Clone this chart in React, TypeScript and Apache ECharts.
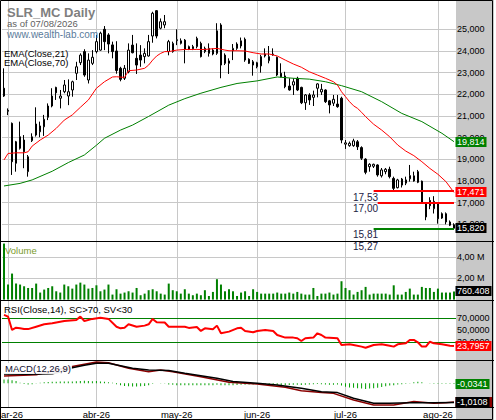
import React, { useEffect, useRef } from "react";
import * as echarts from "echarts";

const FONT = '"Liberation Sans", Arial, Helvetica, sans-serif';
const GRID_COLOR = "#c8c8c8";

const HOLIDAYS = ["2026-04-03", "2026-04-06", "2026-05-01"];
const MONTHS_ES = ["ene", "feb", "mar", "abr", "may", "jun", "jul", "ago", "sep", "oct", "nov", "dic"];

function tradingDays(start: string, end: string): string[] {
  const out: string[] = [];
  const d = new Date(start + "T12:00:00Z");
  const e = new Date(end + "T12:00:00Z");
  while (d.getTime() <= e.getTime()) {
    const wd = d.getUTCDay();
    const s = d.toISOString().slice(0, 10);
    if (wd !== 0 && wd !== 6 && HOLIDAYS.indexOf(s) < 0) out.push(s);
    d.setUTCDate(d.getUTCDate() + 1);
  }
  return out;
}

const categories = tradingDays("2026-02-27", "2026-08-07");

const opens = [
  22.28, 21.26, 20.66, 19.81, 20.04, 19.89, 18.43, 19.86, 20.12, 20.27,
  20.5, 20.94, 21.46, 22.32, 21.82, 22.12, 21.92, 22.2, 22.97, 23.46,
  23.97, 22.66, 23.43, 23.97, 24.04, 25.0, 24.74, 24.28, 24.0, 23.2,
  22.74, 23.04, 24.27, 23.66, 23.81, 23.74, 23.77, 24.69, 25.86, 25.05,
  25.2, 23.97, 23.97, 24.48, 24.35, 24.5, 24.08, 24.1, 24.2, 24.35,
  23.97, 23.89, 24.04, 23.89, 25.2, 23.81, 23.43, 24.01, 24.12, 24.23,
  24.54, 23.62, 23.5, 23.27, 23.31, 23.77, 23.55, 23.82, 23.71, 22.97,
  22.85, 22.38, 22.43, 22.74, 22.32, 21.61, 21.97, 21.86, 22.28, 22.11,
  22.2, 21.7, 21.59, 21.55, 21.82, 19.7, 19.63, 19.63, 19.81, 19.54,
  19.01, 18.66, 18.68, 18.74, 18.24, 18.43, 18.54, 18.12, 17.69, 17.81,
  17.9, 18.1, 18.0, 18.43, 17.99, 16.34, 17.1, 16.72, 16.95, 16.49,
  16.49, 16.11, 15.98,
];
const closes = [
  21.92, 21.22, 18.89, 18.82, 19.51, 19.35, 19.12, 20.04, 20.63, 20.54,
  20.85, 21.46, 21.92, 22.07, 21.92, 22.43, 22.12, 22.58, 23.27, 23.81,
  22.89, 23.58, 23.71, 24.43, 24.82, 24.43, 24.32, 23.97, 23.1, 22.69,
  23.2, 24.04, 23.92, 23.35, 23.58, 23.89, 24.43, 25.74, 24.69, 25.35,
  25.35, 24.43, 24.35, 24.52, 24.47, 24.08, 24.2, 24.2, 24.58, 23.74,
  24.12, 24.12, 23.86, 24.93, 23.35, 23.43, 23.54, 24.12, 24.32, 24.47,
  23.58, 23.43, 23.35, 23.46, 23.74, 23.86, 23.74, 23.86, 22.89, 22.81,
  22.35, 22.2, 22.58, 22.2, 21.61, 21.97, 21.74, 21.97, 22.48, 22.23,
  21.66, 21.51, 21.77, 21.43, 19.89, 19.76, 19.74, 19.85, 19.58, 19.05,
  18.4, 18.77, 18.77, 18.28, 18.51, 18.54, 18.2, 17.66, 18.05, 18.09,
  18.05, 18.25, 18.24, 17.94, 17.03, 16.95, 16.86, 17.06, 16.26, 16.29,
  16.11, 15.96, 15.82,
];
const lows = [
  21.88, 21.04, 18.28, 18.43, 19.45, 18.59, 18.2, 19.8, 20.05, 20.02,
  20.08, 20.81, 21.4, 21.74, 21.35, 22.05, 21.5, 21.89, 22.66, 23.35,
  22.81, 22.5, 23.35, 23.89, 24.01, 24.04, 23.89, 23.66, 22.95, 22.6,
  22.66, 22.97, 23.89, 22.94, 23.27, 23.43, 23.74, 24.38, 24.58, 25.0,
  25.05, 23.8, 23.92, 24.27, 24.3, 23.43, 24.04, 24.04, 24.12, 23.7,
  23.9, 23.74, 23.8, 23.82, 22.74, 23.35, 22.94, 23.58, 24.05, 24.12,
  23.5, 23.4, 22.86, 23.2, 23.0, 23.7, 23.43, 23.78, 22.84, 22.78,
  22.28, 22.17, 21.97, 22.15, 21.55, 21.28, 21.51, 21.46, 21.86, 21.97,
  21.6, 21.12, 21.46, 21.38, 19.74, 19.48, 19.58, 19.58, 19.43, 18.97,
  18.31, 18.43, 18.6, 18.2, 18.16, 18.31, 18.12, 17.54, 17.66, 17.7,
  17.81, 17.97, 17.97, 17.9, 16.95, 16.19, 16.7, 16.5, 16.03, 16.25,
  16.0, 15.92, 15.81,
];
const highs = [
  23.2, 21.35, 20.7, 19.85, 20.74, 20.12, 19.2, 20.2, 21.4, 20.74,
  21.05, 21.58, 22.28, 22.35, 22.2, 22.66, 22.69, 22.63, 23.5, 23.89,
  24.08, 23.89, 24.04, 24.74, 24.89, 25.15, 24.82, 24.43, 24.45, 23.27,
  23.35, 24.35, 24.74, 24.35, 24.27, 24.12, 24.74, 25.81, 25.89, 25.5,
  25.66, 24.51, 24.43, 25.0, 24.58, 24.55, 24.25, 24.28, 24.66, 24.43,
  24.2, 24.35, 24.12, 25.28, 25.28, 23.89, 23.66, 24.32, 24.4, 24.62,
  24.62, 23.66, 23.58, 23.5, 23.82, 24.12, 24.23, 24.12, 23.74, 23.43,
  23.04, 22.74, 22.74, 22.81, 22.35, 22.01, 22.05, 22.17, 22.51, 22.48,
  22.23, 21.74, 21.97, 21.97, 21.89, 19.89, 19.82, 19.95, 19.89, 19.6,
  19.05, 18.82, 18.8, 18.77, 18.6, 18.6, 18.66, 18.2, 18.1, 18.14,
  18.2, 18.74, 18.43, 18.51, 18.02, 17.02, 17.25, 17.3, 17.0, 16.55,
  16.55, 16.18, 16.05,
];

// volume in millions
const volumesM = [
  5.25, 1.41, 2.44, 1.5, 1.41, 1.25, 1.09, 1.09, 1.5, 0.66,
  0.94, 1.09, 1.25, 0.78, 0.66, 1.41, 1.25, 1.03, 1.41, 1.59,
  1.41, 1.03, 1.09, 1.34, 0.78, 0.94, 1.41, 0.47, 0.97, 0.56,
  0.66, 0.78, 0.66, 1.09, 0.41, 0.56, 0.88, 0.97, 0.78, 0.56,
  0.47, 1.5, 0.88, 0.78, 0.56, 0.97, 0.56, 0.41, 0.56, 0.41,
  0.88, 0.34, 0.72, 1.91, 1.41, 0.78, 0.97, 0.78, 0.34, 0.66,
  0.78, 0.34, 0.97, 0.72, 0.56, 0.56, 0.56, 0.56, 0.66, 0.56,
  0.56, 0.66, 0.56, 0.72, 0.56, 0.47, 0.47, 1.09, 0.34, 0.56,
  0.56, 0.66, 0.47, 0.56, 1.72, 1.09, 0.88, 0.47, 0.72, 0.88,
  1.19, 0.47, 0.56, 0.56, 0.56, 0.56, 0.47, 1.34, 0.47, 0.47,
  0.72, 1.03, 0.47, 0.47, 1.19, 1.09, 1.09, 0.72, 1.03, 0.66,
  0.66, 0.66, 0.760408,
];

// [bar index, value]
const ema21Points: [number, number][] = [
  [0, 18.97], [1, 19.27], [3, 19.3], [5, 19.3], [6, 19.35], [7, 19.61], [9, 19.89], [11, 20.12],
  [13, 20.43], [15, 20.81], [17, 21.05], [19, 21.4], [21, 21.74], [23, 22.28], [25, 22.58], [27, 22.8],
  [28, 22.81], [30, 22.78], [31, 23.09], [33, 23.12], [35, 23.2], [36, 23.35], [37, 23.58], [38, 23.77],
  [39, 23.89], [40, 23.97], [41, 23.97], [43, 24.04], [45, 24.07], [48, 24.07], [50, 24.07], [53, 24.12],
  [55, 24.04], [56, 24.01], [58, 24.01], [60, 24.0], [62, 23.92], [64, 23.86], [66, 23.86], [68, 23.77],
  [70, 23.58], [72, 23.4], [74, 23.25], [76, 23.04], [78, 22.89], [80, 22.74], [82, 22.58], [83, 22.43],
  [84, 22.12], [85, 21.89], [86, 21.66], [87, 21.47], [88, 21.35], [89, 21.17], [90, 20.97], [92, 20.62],
  [94, 20.35], [96, 20.04], [98, 19.66], [100, 19.38], [102, 19.17], [104, 18.89], [106, 18.58],
  [108, 18.31], [110, 17.97], [112, 17.471],
];
const ema70Points: [number, number][] = [
  [0, 17.77], [4, 17.89], [7, 18.05], [12, 18.45], [16, 18.85], [20, 19.2], [23, 19.65], [25, 19.97],
  [29, 20.35], [32, 20.58], [36, 20.98], [41, 21.5], [45, 21.8], [49, 22.05], [54, 22.32], [58, 22.5],
  [63, 22.62], [68, 22.8], [72, 22.74], [76, 22.7], [80, 22.58], [84, 22.4], [89, 22.12], [94, 21.66],
  [99, 21.12], [104, 20.74], [109, 20.2], [112, 19.814],
];
const rsiPoints: [number, number][] = [
  [0, 75.6], [1, 72.8], [2, 50.6], [3, 54.4], [4, 53.3], [5, 52.2], [6, 52], [8, 56], [10, 60], [12, 61.7],
  [15, 65.6], [18, 67.2], [19, 72.8], [20, 65.5], [22, 69], [24, 71], [26, 69], [28, 56], [29, 53.3],
  [30, 54.4], [31, 60], [33, 56], [35, 57.8], [36, 60], [37, 68.9], [38, 63.3], [40, 63], [41, 56],
  [45, 56], [46, 54], [48, 55.5], [49, 48.9], [50, 53.3], [52, 51.7], [53, 57.8], [54, 45], [56, 47.8],
  [58, 53.3], [59, 54.4], [60, 48.9], [62, 46.7], [63, 48.9], [65, 50.5], [67, 48.9], [68, 42.2],
  [70, 37.8], [72, 37.8], [73, 36.7], [74, 32.2], [75, 36.7], [77, 37.8], [78, 45], [79, 42.2],
  [80, 37.8], [83, 36.7], [84, 25.6], [86, 26.7], [87, 25.6], [89, 22.8], [90, 21], [92, 25.6],
  [94, 26.7], [96, 24.4], [97, 22.8], [98, 26.7], [100, 28.3], [101, 34], [102, 34], [103, 30],
  [104, 22.8], [105, 22.8], [106, 31], [107, 28.3], [109, 26.7], [111, 24.4], [112, 23.7957],
];
const macdPoints: [number, number][] = [
  [0, 0.49], [6, 0.47], [12, 0.5], [14, 0.6], [17, 0.82], [20, 0.95], [23, 1.05], [26, 1.05], [32, 0.79],
  [36, 0.7], [41, 0.67], [45, 0.53], [53, 0.26], [57, 0.09], [63, 0.0], [68, -0.09], [74, -0.26],
  [79, -0.44], [83, -0.49], [87, -0.79], [92, -1.05], [96, -1.05], [101, -1.02], [107, -1.02],
  [112, -1.0108],
];
const signalPoints: [number, number][] = [
  [0, 0.38], [8, 0.45], [16, 0.84], [23, 1.12], [26, 1.08], [31, 0.79], [36, 0.61], [39, 0.7],
  [42, 0.61], [49, 0.35], [56, 0.05], [63, -0.04], [70, -0.21], [74, -0.39], [79, -0.49], [82, -0.53],
  [87, -0.88], [92, -1.14], [97, -1.14], [102, -0.96], [107, -1.05], [110, -1.02], [112, -0.98],
];
const histValues = [
  0.2, 0.2, 0.16, 0.12,
  0.03, -0.04, -0.07, -0.05, -0.01,
  0.03, 0.05, 0.07, 0.08, 0.08, 0.09, 0.1, 0.1, 0.1, 0.11, 0.12, 0.13, 0.12, 0.11, 0.12, 0.1, 0.08, 0.06, 0.03,
  -0.05, -0.1, -0.14, -0.16, -0.17, -0.17, -0.16, -0.14, -0.1,
  -0.03, 0.0, 0.02, 0.01,
  -0.06, -0.08, -0.1, -0.1, -0.11, -0.11, -0.1, -0.1, -0.1, -0.1, -0.11, -0.1, -0.08, -0.1, -0.11, -0.1, -0.1, -0.09, -0.08, -0.08, -0.07, -0.06,
  -0.04, -0.03, -0.05, -0.04, -0.06, -0.08, -0.1, -0.1, -0.09, -0.08, -0.08, -0.09,
  -0.08, -0.07, -0.05, -0.04, -0.05, -0.07, -0.08, -0.08, -0.07, -0.12,
  -0.18, -0.22, -0.24, -0.26, -0.28, -0.3, -0.28, -0.26, -0.24, -0.2, -0.16, -0.12,
  -0.1, -0.07, -0.05, -0.03,
  -0.01,
  0.06, 0.08, 0.06,
  0.0, -0.01,
  -0.02, -0.03, -0.03, -0.03, -0.03, -0.0341,
];

const priceTicks = [16, 17, 18, 19, 20, 21, 22, 23, 24, 25];
const volumeTicks = [2, 4];
const rsiTicks = [30, 50, 70];
const rsiLevels = [70, 30];
// horizontal level lines: value and the bar they start from
const levelValues = [17.53, 17.0, 15.81];
const levelStartBars = [92, 93, 92];
const levelColors = ["#ff0000", "#ff0000", "#008000"];
const levelNotes = [17.53, 17.0, 15.81, 15.27];

const fmtComma = (v: number, d: number) => v.toFixed(d).replace(".", ",");
const fmtThousands = (n: number) => String(Math.round(n)).replace(/\B(?=(\d{3})+(?!\d))/g, ".");

export default function App() {
  const ref = useRef<HTMLDivElement>(null);

  useEffect(() => {
    document.body.style.margin = "0";
    const el = ref.current!;
    const chart = echarts.init(el, undefined, { renderer: "svg", width: 496, height: 420 });

    const monthStarts = categories
      .map((d, i) => (i > 0 && d.slice(5, 7) !== categories[i - 1].slice(5, 7) ? i : -1))
      .filter((i) => i >= 0);
    const monthSet = new Set(monthStarts);
    const monthLabel = (d: string) => `${MONTHS_ES[Number(d.slice(5, 7)) - 1]}-${d.slice(2, 4)}`;

    const verticalLines = monthStarts.map((i) => ({ xAxis: categories[i] }));
    const gridMarkLine = (extra: any[]) => ({
      silent: true,
      symbol: ["none", "none"],
      z: 1,
      label: { show: false },
      lineStyle: { color: GRID_COLOR, width: 1, type: "solid" },
      emphasis: { disabled: true },
      data: [...verticalLines, ...extra],
    });

    const gridBase = { left: 2, width: 454, containLabel: false, outerBoundsMode: "none" };
    const lastIdx = categories.length - 1;

    const option: any = {
      animation: false,
      backgroundColor: "transparent",
      textStyle: { fontFamily: FONT },
      grid: [
        { ...gridBase, top: 1, height: 240 },
        { ...gridBase, top: 240.9, height: 58.7 },
        { ...gridBase, top: 300.3, height: 60 },
        { ...gridBase, top: 360.7, height: 46.5 },
      ],
      xAxis: [0, 1, 2, 3].map((g) => ({
        type: "category",
        gridIndex: g,
        data: categories,
        boundaryGap: true,
        axisLine: { show: false },
        axisTick: { show: false },
        splitLine: { show: false },
        axisLabel:
          g === 3
            ? {
                show: true,
                interval: (i: number) => monthSet.has(i),
                formatter: (v: string) => monthLabel(v),
                margin: 2,
                fontSize: 9.5,
                fontFamily: FONT,
                color: "#000",
              }
            : { show: false },
      })),
      yAxis: [
        { type: "value", gridIndex: 0, min: 15.231, max: 26.306, show: false },
        {
          type: "value",
          gridIndex: 1,
          min: 0,
          max: 5.5,
          interval: 2,
          position: "right",
          axisLine: { show: false },
          axisTick: { show: false },
          axisLabel: {
            margin: 1,
            fontSize: 9,
            fontFamily: FONT,
            color: "#000",
            formatter: (v: number) => (volumeTicks.indexOf(v) >= 0 ? fmtComma(v, 2) + " M" : ""),
          },
          splitLine: { show: true, showMinLine: false, showMaxLine: false, lineStyle: { color: GRID_COLOR } },
        },
        {
          type: "value",
          gridIndex: 2,
          min: 0,
          max: 100,
          interval: 10,
          position: "right",
          axisLine: { show: false },
          axisTick: { show: false },
          axisLabel: {
            margin: 1,
            fontSize: 9,
            fontFamily: FONT,
            color: "#000",
            formatter: (v: number) => (rsiTicks.indexOf(v) >= 0 ? fmtComma(v, 4) : ""),
          },
          splitLine: { show: false },
        },
        { type: "value", gridIndex: 3, min: -1.26, max: 1.19, show: false },
      ],
      series: [
        {
          type: "candlestick",
          xAxisIndex: 0,
          yAxisIndex: 0,
          z: 3,
          barWidth: 2,
          data: categories.map((_, i) => [opens[i], closes[i], lows[i], highs[i]]),
          itemStyle: {
            color: "#ffffff",
            color0: "#000000",
            borderColor: "#000000",
            borderColor0: "#000000",
            borderColorDoji: "#000000",
            borderWidth: 1,
          },
          markLine: {
            silent: true,
            symbol: ["none", "none"],
            z: 6,
            label: { show: false },
            emphasis: { disabled: true },
            data: levelValues.map((v, k) => [
              {
                coord: [categories[levelStartBars[k]], v],
                lineStyle: { color: levelColors[k], width: 2, type: "solid" },
              },
              { coord: [categories[lastIdx], v] },
            ]),
          },
        },
        {
          type: "line",
          name: "EMA70",
          xAxisIndex: 0,
          yAxisIndex: 0,
          z: 4,
          data: ema70Points,
          symbol: "none",
          lineStyle: { color: "#008000", width: 1 },
          markLine: gridMarkLine(
            priceTicks.map((v) => ({
              yAxis: v,
              label: {
                show: true,
                position: "end",
                distance: 1,
                formatter: fmtComma(v, 3),
                color: "#000",
                fontSize: 9,
                fontFamily: FONT,
              },
            }))
          ),
        },
        {
          type: "line",
          name: "EMA21",
          xAxisIndex: 0,
          yAxisIndex: 0,
          z: 4,
          data: ema21Points,
          symbol: "none",
          lineStyle: { color: "#ff0000", width: 1 },
        },
        {
          type: "bar",
          xAxisIndex: 1,
          yAxisIndex: 1,
          data: volumesM,
          barWidth: 2,
          itemStyle: { color: "#008000" },
          markLine: gridMarkLine([]),
        },
        {
          type: "line",
          xAxisIndex: 2,
          yAxisIndex: 2,
          data: rsiPoints,
          symbol: "none",
          z: 4,
          lineStyle: { color: "#ff0000", width: 2 },
          markLine: gridMarkLine(
            rsiLevels.map((v) => ({ yAxis: v, lineStyle: { color: "#008000", width: 1, type: "solid" } }))
          ),
        },
        {
          type: "bar",
          xAxisIndex: 3,
          yAxisIndex: 3,
          data: histValues,
          barWidth: 1,
          itemStyle: { color: "#00a000" },
          markLine: gridMarkLine([]),
        },
        {
          type: "line",
          xAxisIndex: 3,
          yAxisIndex: 3,
          data: signalPoints,
          symbol: "none",
          z: 4,
          lineStyle: { color: "#8b0000", width: 1.5 },
        },
        {
          type: "line",
          xAxisIndex: 3,
          yAxisIndex: 3,
          data: macdPoints,
          symbol: "none",
          z: 4,
          lineStyle: { color: "#000000", width: 1.5 },
        },
      ],
    };

    chart.setOption(option);

    const ctx = document.createElement("canvas").getContext("2d")!;
    const measure = (t: string, size: number, weight = "normal") => {
      ctx.font = `${weight} ${size}px ${FONT}`;
      return ctx.measureText(t).width;
    };
    const yPix = (axis: number, v: number) => chart.convertToPixel({ yAxisIndex: axis } as any, v) as number;

    const txt = (x: number, y: number, text: string, size: number, color: string, weight = "normal", z = 20) => ({
      type: "text",
      x,
      y,
      z,
      silent: true,
      style: {
        text,
        fill: color,
        font: `${weight} ${size}px ${FONT}`,
        align: "left",
        verticalAlign: "middle",
        textAlign: "left",
        textVerticalAlign: "middle",
      },
    });
    const box = (yc: number, text: string, bg: string, extra = 0, z = 30) => {
      const w = Math.ceil(measure(text, 9)) + 3 + extra;
      return [
        { type: "rect", z, silent: true, shape: { x: 455.5, y: Math.round(yc) - 5, width: w, height: 10 }, style: { fill: bg } },
        txt(457, Math.round(yc), text, 9, "#ffffff", "normal", z + 1),
      ];
    };
    const hline = (y: number) => ({
      type: "line",
      z: 50,
      silent: true,
      shape: { x1: 0, y1: y, x2: 494, y2: y },
      style: { stroke: "#000", lineWidth: 1 },
    });

    const lastEma70 = ema70Points[ema70Points.length - 1][1];
    const lastEma21 = ema21Points[ema21Points.length - 1][1];
    const lastClose = closes[lastIdx];
    const lastVol = volumesM[lastIdx];
    const lastRsi = rsiPoints[rsiPoints.length - 1][1];
    const lastHist = histValues[lastIdx];
    const lastMacd = macdPoints[macdPoints.length - 1][1];
    const lastSignal = signalPoints[signalPoints.length - 1][1];

    const graphics: any[] = [
      { type: "rect", z: -10, silent: true, shape: { x: 456, y: 0, width: 38, height: 420 }, style: { fill: "#c8c8c8" } },
      { type: "rect", z: -11, silent: true, shape: { x: 0, y: 0, width: 496, height: 420 }, style: { fill: "#ffffff" } },
      txt(7, 12, "SLR_MC Daily", 13, "#7f7f7f", "bold"),
      txt(7, 23.7, "as of 07/08/2026", 9.5, "#5f5f5f"),
      txt(7, 34.8, "www.wealth-lab.com", 10, "#5b7b9b"),
      txt(4, 53, "EMA(Close,21)", 9.5, "#000"),
      txt(4, 62.5, "EMA(Close,70)", 9.5, "#000"),
      txt(5, 250, "Volume", 9.5, "#7a9a2a"),
      txt(4, 309.7, "RSI(Close,14), SC>70, SV<30", 9.5, "#000"),
      {
        type: "rect",
        z: 19,
        silent: true,
        shape: { x: 4, y: 363, width: Math.ceil(measure("MACD(12,26,9)", 9.5)) + 2, height: 11 },
        style: { fill: "rgba(255,255,255,0.9)" },
      },
      txt(5, 368.5, "MACD(12,26,9)", 9.5, "#101030"),
      ...levelNotes.map((v) => txt(353, yPix(0, v) + 6, fmtComma(v, 2), 10, "#222244", "normal", 21)),
      ...box(yPix(0, lastEma70), fmtComma(lastEma70, 3), "#008000"),
      ...box(yPix(0, lastEma21), fmtComma(lastEma21, 3), "#ff0000"),
      ...box(yPix(0, lastClose), fmtComma(lastClose, 3), "#000000"),
      ...box(yPix(1, lastVol), fmtThousands(lastVol * 1e6), "#000000"),
      ...box(yPix(2, lastRsi), fmtComma(lastRsi, 4), "#ff0000"),
      ...box(yPix(3, lastHist), fmtComma(lastHist, 4), "#008000"),
      ...box(yPix(3, lastSignal), fmtComma(lastSignal, 4), "#8b0000", 3, 30),
      ...box(yPix(3, lastMacd), fmtComma(lastMacd, 4), "#000000", 0, 33),
      hline(241.5),
      hline(300.5),
      hline(360.5),
      hline(407.5),
      {
        type: "rect",
        z: 50,
        silent: true,
        shape: { x: 0.5, y: 0.5, width: 492, height: 419 },
        style: { fill: "none", stroke: "#000", lineWidth: 1 },
      },
    ];

    chart.setOption({ graphic: graphics });

    return () => {
      chart.dispose();
    };
  }, []);

  return (
    <div
      ref={ref}
      style={{ position: "absolute", left: 0, top: 0, width: 496, height: 420, background: "#ffffff" }}
    />
  );
}
